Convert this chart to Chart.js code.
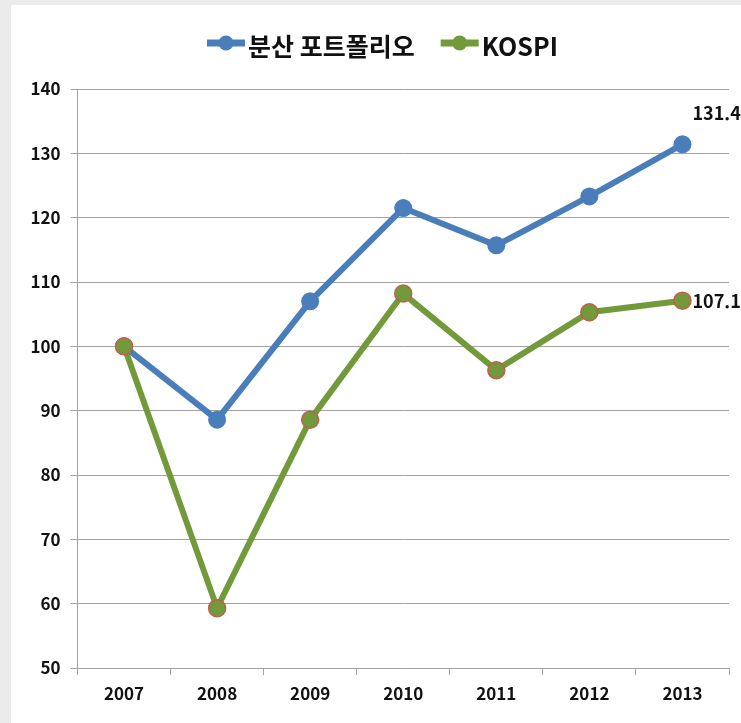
<!DOCTYPE html>
<html lang="ko">
<head>
<meta charset="UTF-8">
<title>분산 포트폴리오 vs KOSPI</title>
<style>
  body { margin: 0; background: #ebebeb; width: 741px; height: 723px; overflow: hidden; }
  #box { position: absolute; left: 11px; top: 5px; width: 730px; height: 718px; background: #fff; }
</style>
</head>
<body>
<div id="box"><canvas id="myChart" width="730" height="718"></canvas></div>

<script src="https://cdn.jsdelivr.net/npm/chart.js"></script>
<script>
  const v_years = ["2007", "2008", "2009", "2010", "2011", "2012", "2013"];
  const v_portfolio = [100, 88.6, 107.0, 121.5, 115.7, 123.3, 131.4];
  const v_kospi = [100, 59.3, 88.6, 108.2, 96.3, 105.3, 107.1];
  const v_names = ["분산 포트폴리오", "KOSPI"];

  const FONT = "'Noto Sans CJK KR', 'Noto Sans', sans-serif";
  const BLUE = "#4a7ebb";
  const GREEN = "#729a3a";
  const GRID = "#a3a3a3";

  // 범례 (선 + 원 마커)
  const legendPlugin = {
    id: "myLegend",
    afterDraw(chart) {
      const ctx = chart.ctx;
      const colors = [BLUE, GREEN];
      ctx.save();
      ctx.font = "bold 25px " + FONT;
      let x = 196;
      const y = 38;
      for (let i = 0; i < 2; i++) {
        ctx.strokeStyle = colors[i];
        ctx.lineWidth = 7;
        ctx.beginPath();
        ctx.moveTo(x, y);
        ctx.lineTo(x + 38, y);
        ctx.stroke();
        ctx.fillStyle = colors[i];
        ctx.beginPath();
        ctx.arc(x + 19, y, 7.5, 0, Math.PI * 2);
        ctx.fill();
        ctx.fillStyle = "#111";
        ctx.textAlign = "left";
        ctx.textBaseline = "middle";
        ctx.fillText(v_names[i], x + 41, y + 3);
        x += 41 + ctx.measureText(v_names[i]).width + 26;
      }
      ctx.restore();
    }
  };

  // 마지막 값 라벨
  const lastLabelPlugin = {
    id: "lastLabel",
    afterDatasetsDraw(chart) {
      const ctx = chart.ctx;
      const last = v_years.length - 1;
      const pBlue = chart.getDatasetMeta(1).data[last];
      const pGreen = chart.getDatasetMeta(0).data[last];
      ctx.save();
      ctx.font = "bold 18px " + FONT;
      ctx.fillStyle = "#111";
      ctx.textAlign = "left";
      ctx.textBaseline = "middle";
      ctx.fillText(v_portfolio[last].toFixed(1), pBlue.x + 10, pBlue.y - 31);
      ctx.fillText(v_kospi[last].toFixed(1), pGreen.x + 10, pGreen.y);
      ctx.restore();
    }
  };

  const ctx = document.getElementById("myChart");

  new Chart(ctx, {
    type: "line",
    data: {
      labels: v_years,
      datasets: [
        {
          label: v_names[1],
          data: v_kospi,
          borderColor: GREEN,
          borderWidth: 6,
          pointRadius: 8.5,
          pointBackgroundColor: GREEN,
          pointBorderColor: "#c0604a",
          pointBorderWidth: 1.5,
          tension: 0
        },
        {
          label: v_names[0],
          data: v_portfolio,
          borderColor: BLUE,
          borderWidth: 6,
          pointRadius: 9,
          pointBackgroundColor: BLUE,
          pointBorderColor: BLUE,
          pointBorderWidth: 0,
          tension: 0
        }
      ]
    },
    options: {
      responsive: false,
      animation: false,
      layout: { padding: { top: 84, right: 12, left: 0, bottom: 0 } },
      plugins: {
        legend: { display: false },
        tooltip: { enabled: false }
      },
      scales: {
        x: {
          offset: true,
          grid: {
            offset: true,
            drawOnChartArea: false,
            drawTicks: true,
            tickLength: 7,
            color: GRID
          },
          border: { color: GRID },
          ticks: {
            color: "#111",
            padding: 8,
            font: { family: FONT, size: 17, weight: "bold" }
          },
          afterFit(scale) { scale.height = 55; }
        },
        y: {
          min: 50,
          max: 140,
          ticks: {
            stepSize: 10,
            color: "#111",
            padding: 10,
            font: { family: FONT, size: 17, weight: "bold" }
          },
          grid: {
            color: GRID,
            tickLength: 7
          },
          border: { color: GRID },
          afterFit(scale) { scale.width = 66.5; }
        }
      }
    },
    plugins: [legendPlugin, lastLabelPlugin]
  });
</script>
</body>
</html>
